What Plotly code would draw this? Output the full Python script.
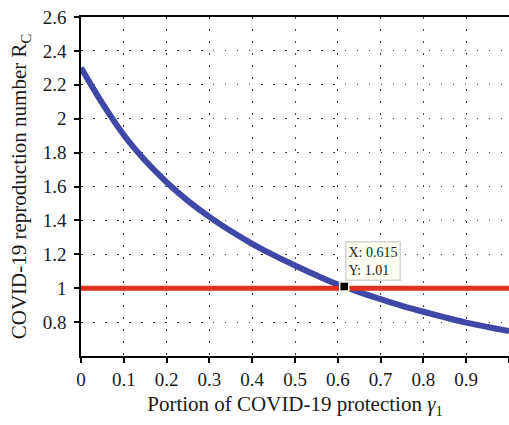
import plotly.graph_objects as go

# Protection level gamma_1 and the resulting reproduction number R_C
gamma = [0.0, 0.05, 0.1, 0.15, 0.2, 0.25, 0.3, 0.35, 0.4, 0.45, 0.5,
         0.55, 0.6, 0.65, 0.7, 0.75, 0.8, 0.85, 0.9, 0.95, 1.0]
r_c = [2.30, 2.09, 1.904, 1.753, 1.625, 1.515, 1.421, 1.337, 1.262, 1.195, 1.134,
       1.076, 1.022, 0.977, 0.935, 0.896, 0.861, 0.828, 0.797, 0.771, 0.747]

# Threshold R_C = 1
threshold_x = [0.0, 1.0]
threshold_y = [1.0, 1.0]

# Highlighted crossing point
point_x = [0.615]
point_y = [1.01]

x_ticks = [0, 0.1, 0.2, 0.3, 0.4, 0.5, 0.6, 0.7, 0.8, 0.9, 1]
x_labels = ["0", "0.1", "0.2", "0.3", "0.4", "0.5", "0.6", "0.7", "0.8", "0.9", "1"]
y_ticks = [0.8, 1.0, 1.2, 1.4, 1.6, 1.8, 2.0, 2.2, 2.4, 2.6]
y_labels = ["0.8", "1", "1.2", "1.4", "1.6", "1.8", "2", "2.2", "2.4", "2.6"]

FONT = "Liberation Serif, Times New Roman, serif"

fig = go.Figure()
fig.add_trace(go.Scatter(x=gamma, y=r_c, mode="lines",
                         line=dict(color="#3f48a6", width=6, shape="spline"),
                         showlegend=False, hoverinfo="skip"))
fig.add_trace(go.Scatter(x=threshold_x, y=threshold_y, mode="lines",
                         line=dict(color="#e0301e", width=5),
                         showlegend=False, hoverinfo="skip"))
fig.add_trace(go.Scatter(x=point_x, y=point_y, mode="markers",
                         marker=dict(symbol="square", size=9, color="black",
                                     line=dict(color="#f0f0d8", width=1.5)),
                         showlegend=False, hoverinfo="skip"))

fig.add_annotation(x=point_x[0], y=point_y[0], xref="x", yref="y",
                   text=f"X: {point_x[0]}<br>Y: {point_y[0]}",
                   showarrow=False, xanchor="left", yanchor="bottom",
                   xshift=1, yshift=6, align="left",
                   font=dict(family=FONT, size=14, color="#222222"),
                   bgcolor="#fdfdf2", bordercolor="#d4d4d4", borderwidth=1.5,
                   borderpad=2)

grid_dash = "1.5px,10.5px"
fig.update_xaxes(range=[0, 1], tickvals=x_ticks, ticktext=x_labels,
                 showline=True, linecolor="black", linewidth=1.5, mirror=True,
                 ticks="outside", ticklen=5, tickcolor="black", tickwidth=1.5,
                 showgrid=True, gridcolor="#444444", gridwidth=1, griddash=grid_dash,
                 zeroline=False,
                 tickfont=dict(family=FONT, size=19, color="#1a1a1a"),
                 title=dict(text="Portion of COVID-19 protection <i>γ</i><sub>1</sub>",
                            font=dict(family=FONT, size=21, color="#1a1a1a"),
                            standoff=8))
fig.update_yaxes(range=[0.6, 2.6], tickvals=y_ticks, ticktext=y_labels,
                 showline=True, linecolor="black", linewidth=1.5,
                 ticks="outside", ticklen=5, tickcolor="black", tickwidth=1.5,
                 ticklabelstandoff=4,
                 showgrid=True, gridcolor="#444444", gridwidth=1, griddash=grid_dash,
                 zeroline=False,
                 tickfont=dict(family=FONT, size=19, color="#1a1a1a"),
                 title=dict(text="COVID-19 reproduction number R<sub>C</sub>",
                            font=dict(family=FONT, size=21, color="#1a1a1a"),
                            standoff=10))

fig.update_layout(width=509, height=425,
                  margin=dict(l=81, r=0, t=17, b=69),
                  plot_bgcolor="white", paper_bgcolor="white")

fig.write_html("out.html")
